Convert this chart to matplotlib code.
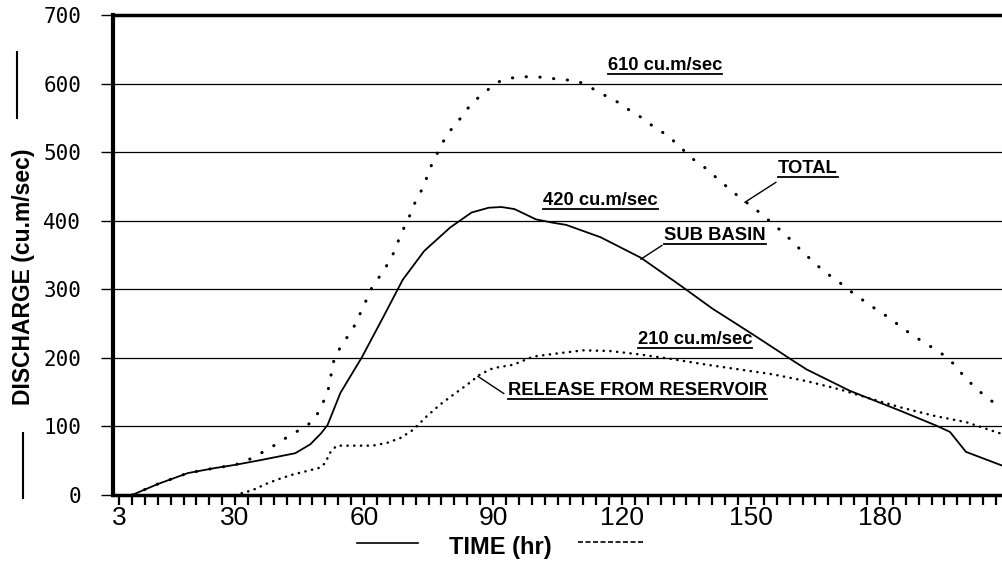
import matplotlib
matplotlib.use('Agg')
import matplotlib.pyplot as plt
from matplotlib.lines import Line2D
from matplotlib.ticker import MultipleLocator

sub_time = [6, 12, 19, 25, 30, 36, 44, 47.5, 50, 51.5, 54.5, 59.5, 64.5, 69, 74, 80, 85, 89,
            92, 95, 100, 104, 107, 115, 124.4, 133.5, 141, 150.5, 160, 163, 173, 184.7, 193.2,
            196.3, 200, 208.4]
sub_flow = [0, 16, 32, 39, 44, 51, 61, 74, 90, 102, 149, 201, 260, 314, 356, 390, 412, 419,
            420, 417, 402, 397, 394, 376, 346, 306, 272, 234, 195, 183, 152, 123, 101,
            92, 63, 43]

total_time = [6, 12, 19, 25, 30, 33, 36, 39, 41.5, 45, 48, 50, 51.7, 53, 55, 57, 59.5, 62, 64,
              66.4, 68, 69.3, 70.8, 72.2, 74, 75, 76.6, 78, 79.2, 82, 85, 88, 91, 94, 97, 100,
              103, 106, 109.5, 112, 115, 118.5, 121.3, 124.4, 127.6, 130.7, 133.6, 136.5,
              139.6, 142.8, 146, 152, 155, 158, 161, 164, 167, 170, 173, 176.5, 179.3, 182.3,
              185.3, 188.6, 191.2, 194.4, 197.4, 199.8, 203.2, 206, 208.4]
total_flow = [0, 16, 32, 39, 44, 51, 61, 72, 82, 95, 107, 127, 155, 197, 222, 237, 270, 305, 322,
              346, 371, 390, 410, 432, 451, 472, 493, 510, 525, 546, 571, 587, 602, 608, 610, 610,
              608, 606, 604, 597, 586, 575, 563, 551, 536, 524, 507, 490, 476, 458, 441, 412,
              396, 380, 361, 343, 326, 313, 298, 282, 270, 258, 243, 229, 219, 206, 190, 171,
              151, 137, 130]

rel_time = [30, 34, 37.5, 40.5, 43.5, 46.7, 49.8, 51, 52, 53.6, 57.5, 62, 65.3, 68.4, 71.4, 74.6,
            77.7, 80.7, 84, 87, 90, 94.7, 99.4, 105.6, 111, 117.2, 124.2, 131.9, 139.8, 147.4,
            155.1, 163, 170.7, 177, 184.7, 192.3, 200.2, 208.4]
rel_flow = [0, 7, 17, 24, 30, 35, 40, 47, 61, 72, 72, 72, 76, 83, 95, 115, 132, 146, 161, 176,
            185, 190, 202, 207, 211, 210, 205, 198, 190, 183, 176, 166, 154, 142, 128, 116,
            106, 89]

x_labels = ['3', '30', '60', '90', '120', '150', '180']
x_label_pos = [3, 30, 60, 90, 120, 150, 180]

narrow = ['Liberation Sans Narrow', 'Liberation Sans']

fig = plt.figure(figsize=(10.02, 5.61), dpi=100)
ax = fig.add_axes([0.1128, 0.1176, 0.8872, 0.8556])

ax.plot(sub_time, sub_flow, color='black', lw=1.3)
ax.plot(total_time, total_flow, color='black', lw=2.2, linestyle=(0, (0.1, 4.4)),
        dash_capstyle='round')
ax.plot(rel_time, rel_flow, color='black', lw=1.8, linestyle=(0, (0.1, 2.6)),
        dash_capstyle='round')

ax.set_xlim(1.6, 208.4)
ax.set_ylim(0, 700)

ax.set_yticks(range(0, 701, 100))
ax.set_yticklabels([str(v) for v in range(0, 701, 100)], fontfamily='DejaVu Sans Mono',
                   fontsize=15)
ax.tick_params(axis='y', direction='out', length=9, width=1, pad=14)
ax.set_xticks(x_label_pos)
ax.set_xticklabels(x_labels, fontfamily=narrow, fontsize=19)
ax.xaxis.set_minor_locator(MultipleLocator(3))
ax.tick_params(axis='x', which='both', direction='out', length=7, width=1.6, pad=1)

ax.grid(axis='y', color='black', lw=0.9)
ax.set_axisbelow(True)
ax.spines['right'].set_visible(False)
ax.spines['left'].set_linewidth(3)
ax.spines['top'].set_linewidth(2.5)
ax.spines['bottom'].set_linewidth(2.5)

note_font = dict(fontfamily=narrow, fontweight='bold', fontsize=13.2, va='center', ha='left')
notes = [
    (116.7, 626, '610 cu.m/sec'),
    (156.3, 476, 'TOTAL'),
    (101.6, 429, '420 cu.m/sec'),
    (129.8, 378, 'SUB BASIN'),
    (123.7, 227, '210 cu.m/sec'),
    (93.5, 153, 'RELEASE FROM RESERVOIR'),
]
note_texts = [ax.text(x, y, s, **note_font) for x, y, s in notes]

# leader lines from the curves to the labels
ax.plot([148.6, 155.8], [427, 456], color='black', lw=1)
ax.plot([124.4, 129.3], [344, 364], color='black', lw=1)
ax.plot([86.5, 92.5], [173, 148], color='black', lw=1)

# axis titles with the little bars/arrows around them
fig.text(0.499, 0.024, 'TIME (hr)', ha='center', va='center', fontweight='bold',
         fontsize=17, fontfamily=narrow)
fig.text(0.023, 0.506, 'DISCHARGE (cu.m/sec)', ha='center', va='center', rotation=90,
         fontweight='bold', fontsize=16.5, fontfamily=narrow)
fig.add_artist(Line2D([357 / 1002, 418 / 1002], [0.032, 0.032], color='black', lw=1.2))
fig.add_artist(Line2D([578 / 1002, 645 / 1002], [0.033, 0.033], color='black', lw=1.2,
                      linestyle=(0, (3, 1.5))))
fig.add_artist(Line2D([0.017, 0.017], [0.79, 0.907], color='black', lw=1.5))
fig.add_artist(Line2D([0.023, 0.023], [0.112, 0.228], color='black', lw=1.5))

# underline the notes
fig.canvas.draw()
inv = fig.transFigure.inverted()
for t in note_texts:
    bb = t.get_window_extent()
    (x0, y0), (x1, _) = inv.transform([(bb.x0, bb.y0), (bb.x1, bb.y1)])
    fig.add_artist(Line2D([x0, x1], [y0, y0], color='black', lw=1.3))

fig.savefig('out.png', dpi=100)
